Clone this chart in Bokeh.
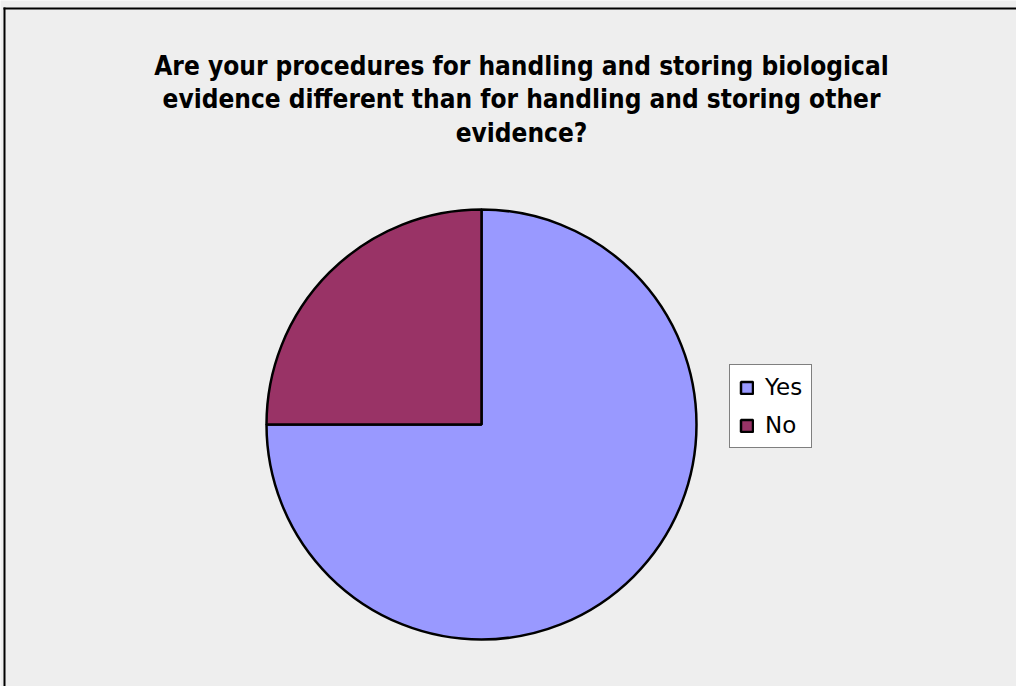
from bokeh.plotting import figure
from bokeh.models import Range1d, Label, Legend, LegendItem, ColumnDataSource, BoxAnnotation
from bokeh.embed import file_html
from bokeh.resources import INLINE
import numpy as np

# ---- data ----
categories = ["Yes", "No"]
shares = [75, 25]
colors = ["#9999FF", "#993366"]
title_lines = [
    "Are your procedures for handling and storing biological",
    "evidence different than for handling and storing other",
    "evidence?",
]

W, H = 1016, 686
p = figure(width=W, height=H, output_backend="svg", toolbar_location=None,
           x_range=Range1d(0, W), y_range=Range1d(0, H), min_border=0)
p.axis.visible = False
p.grid.visible = False
p.background_fill_color = "#EEEEEE"
p.border_fill_color = "#EEEEEE"
p.outline_line_color = None

# chart-area border (only top and left edges are visible in the reference crop)
p.add_layout(BoxAnnotation(left=3, right=5, top=H - 7, fill_color="black", fill_alpha=1.0,
                           line_alpha=0))
p.add_layout(BoxAnnotation(left=3, top=H - 7, bottom=H - 9, fill_color="black", fill_alpha=1.0,
                           line_alpha=0))

frac = np.array(shares, dtype=float) / sum(shares)
cum = np.concatenate([[0.0], np.cumsum(frac)])
start = np.pi / 2 - 2 * np.pi * cum[:-1]
end = np.pi / 2 - 2 * np.pi * cum[1:]

cx, cy, r = 481, H - 424, 215
src = ColumnDataSource(dict(cat=categories, start=start, end=end, color=colors,
                            x=[cx] * len(categories), y=[cy] * len(categories)))
wr = p.wedge(x="x", y="y", radius=r, radius_units="screen",
             start_angle="start", end_angle="end", direction="clock",
             fill_color="color", line_color="black", line_width=2.5, source=src)

legend = Legend(items=[LegendItem(label=c, renderers=[wr], index=i) for i, c in enumerate(categories)],
                location=(729, H - 448), orientation="vertical",
                glyph_width=15, glyph_height=15, label_standoff=11,
                padding=9, spacing=12, margin=0,
                label_text_font="DejaVu Sans", label_text_font_size="23px",
                label_text_color="black",
                border_line_color="black", border_line_width=1,
                background_fill_color="white", background_fill_alpha=1.0)
p.add_layout(legend, "center")

for i, line in enumerate(title_lines):
    p.add_layout(Label(x=521, y=H - 65 - 33.5 * i, x_units="screen", y_units="screen",
                       text=line, text_align="center", text_baseline="alphabetic",
                       text_font="DejaVu Sans Condensed", text_font_style="bold",
                       text_font_size="26px", text_color="black"))

open("out.html", "w").write(file_html(p, INLINE))
